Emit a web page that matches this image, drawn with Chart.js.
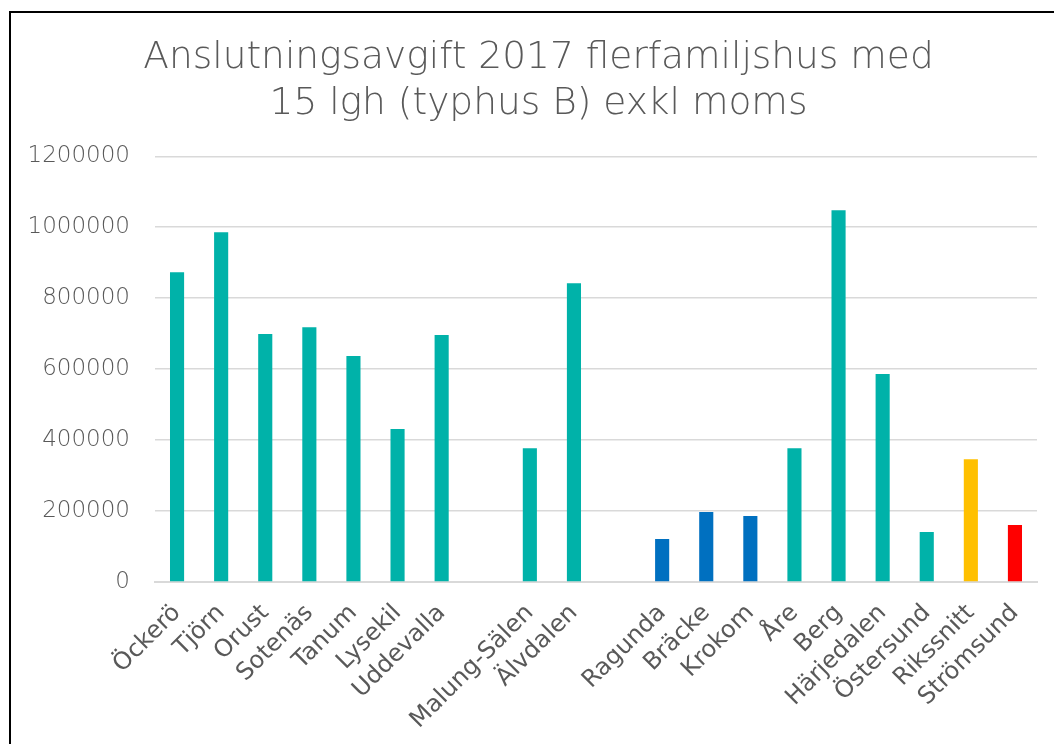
<!DOCTYPE html>
<html>
<head>
<meta charset="utf-8">
<script src="https://cdn.jsdelivr.net/npm/chart.js@4"></script>
<style>
  html, body { margin: 0; padding: 0; background: #fff; }
  #wrap { position: relative; width: 1054px; height: 744px; overflow: hidden; }
  #frame { position: absolute; left: 9px; top: 11px; width: 1100px; height: 800px; border: 2px solid #000; box-sizing: border-box; }
  canvas { position: absolute; left: 0; top: 0; }
</style>
</head>
<body>
<div id="wrap">
  <div id="frame"></div>
  <canvas id="chart" width="1054" height="744"></canvas>
</div>
<script>
// ============ DATA ============

const titleLines = ['Anslutningsavgift 2017 flerfamiljshus med', '15 lgh (typhus B) exkl moms'];

// empty strings are the gaps between groups
const kommuner = [
  'Öckerö', 'Tjörn', 'Orust', 'Sotenäs', 'Tanum', 'Lysekil', 'Uddevalla', '',
  'Malung-Sälen', 'Älvdalen', '',
  'Ragunda', 'Bräcke', 'Krokom', 'Åre', 'Berg', 'Härjedalen', 'Östersund', 'Rikssnitt', 'Strömsund'
];

const avgift = [
  873000, 986000, 699000, 718000, 637000, 431000, 696000, null,
  377000, 842000, null,
  121000, 197000, 186000, 377000, 1048000, 586000, 141000, 346000, 161000
];

const yTicks = [0, 200000, 400000, 600000, 800000, 1000000, 1200000];

// ============ COLOURS ============

const TEAL = '#00B2A9';
const BLUE = '#0070C0';
const barColors = kommuner.map(k => {
  if (k === 'Ragunda' || k === 'Bräcke' || k === 'Krokom') return BLUE;
  if (k === 'Rikssnitt') return '#FFC000';
  if (k === 'Strömsund') return '#FF0000';
  return TEAL;
});

const GRID = '#d9d9d9';
const TEXT = '#595959';

// the original title is centred on the whole frame, not on the plot
const shiftTitle = {
  id: 'shiftTitle',
  afterLayout(chart) {
    const t = chart.titleBlock;
    if (t) { t.left += 20; t.right += 20; }
  }
};

// ============ CHART ============

const ctx = document.getElementById('chart');
new Chart(ctx, {
  type: 'bar',
  data: {
    labels: kommuner,
    datasets: [{
      data: avgift,
      backgroundColor: barColors,
      barPercentage: 0.32,
      categoryPercentage: 1.0
    }]
  },
  options: {
    responsive: false,
    animation: false,
    layout: { padding: { left: 0, right: 17, top: 0, bottom: 0 } },
    plugins: {
      legend: { display: false },
      tooltip: { enabled: false },
      title: {
        display: true,
        text: titleLines,
        color: TEXT,
        font: { family: 'DejaVu Sans', size: 37.5, weight: '200', lineHeight: 1.23 },
        padding: { top: 35, bottom: 29 }
      }
    },
    scales: {
      x: {
        grid: { display: false },
        border: { display: true, color: GRID, width: 2 },
        ticks: {
          color: TEXT,
          font: { family: 'DejaVu Sans', size: 24 },
          minRotation: 45,
          maxRotation: 45,
          autoSkip: false,
          padding: 9
        },
        afterFit: (scale) => { scale.height = 162; }
      },
      y: {
        min: 0,
        max: 1200000,
        afterBuildTicks: (scale) => { scale.ticks = yTicks.map(v => ({ value: v })); },
        grid: { color: GRID, lineWidth: 1.5, drawTicks: false },
        border: { display: false },
        ticks: {
          color: TEXT,
          font: { family: 'DejaVu Sans', size: 23, weight: '200' },
          padding: 25,
          callback: (v) => String(v)
        },
        afterFit: (scale) => { scale.width = 155; }
      }
    }
  },
  plugins: [shiftTitle]
});
</script>
</body>
</html>
